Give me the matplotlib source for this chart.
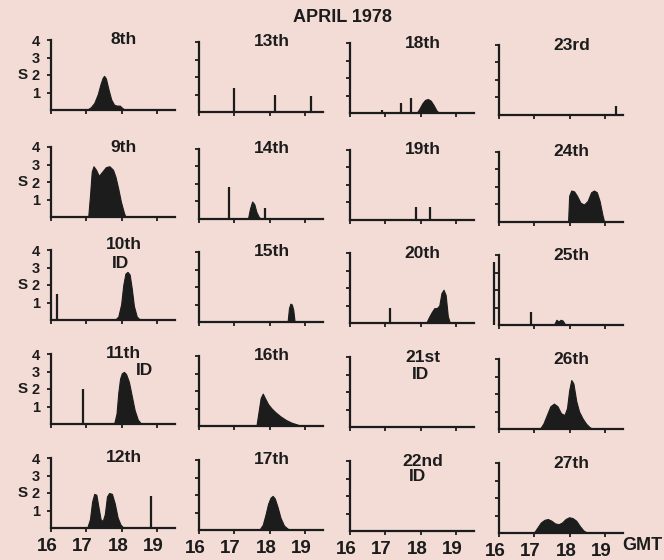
import matplotlib
matplotlib.use('Agg')
import matplotlib.pyplot as plt
from matplotlib.transforms import ScaledTranslation

plt.rcParams['font.family'] = ['Liberation Sans', 'DejaVu Sans']
plt.rcParams['font.weight'] = 'bold'

# Datos: hora GMT y valor S de cada día (abril 1978)
t08 = [17.0, 17.12, 17.22, 17.32, 17.4, 17.46, 17.5, 17.55, 17.62, 17.7, 17.78, 17.86, 17.94, 18.02, 18.1]
s08 = [0, 0.15, 0.4, 0.9, 1.5, 1.85, 1.95, 1.8, 1.2, 0.6, 0.3, 0.25, 0.25, 0.1, 0]

t09 = [17.05, 17.1, 17.15, 17.2, 17.27, 17.35, 17.45, 17.55, 17.65, 17.75, 17.82, 17.9, 17.97, 18.05, 18.1]
s09 = [0, 1.2, 2.6, 2.9, 2.7, 2.35, 2.6, 2.85, 2.9, 2.7, 2.3, 1.6, 0.9, 0.3, 0]

t10 = [17.8, 17.9, 17.98, 18.04, 18.1, 18.16, 18.22, 18.28, 18.34, 18.42, 18.52]
s10 = [0, 0.2, 0.9, 2.0, 2.65, 2.75, 2.6, 1.8, 0.8, 0.2, 0]
spk_t10 = [16.17]
spk_s10 = [1.5]

t11 = [17.78, 17.85, 17.9, 17.95, 18.0, 18.06, 18.12, 18.2, 18.28, 18.36, 18.45, 18.55]
s11 = [0, 0.6, 1.8, 2.6, 2.9, 2.98, 2.85, 2.4, 1.6, 0.8, 0.25, 0]
spk_t11 = [16.9]
spk_s11 = [2.0]

t12 = [17.02, 17.1, 17.16, 17.22, 17.28, 17.34, 17.4, 17.46, 17.52, 17.58, 17.64, 17.72, 17.8, 17.88, 17.96, 18.05]
s12 = [0, 0.5, 1.5, 1.95, 1.9, 1.2, 0.5, 0.4, 0.8, 1.8, 2.0, 1.95, 1.4, 0.6, 0.2, 0]
spk_t12 = [18.83]
spk_s12 = [1.85]

spk_t13 = [17.0, 18.15, 19.15]
spk_s13 = [1.4, 1.0, 0.9]

t14 = [17.38, 17.44, 17.5, 17.56, 17.62, 17.68, 17.74]
s14 = [0, 0.6, 1.0, 0.85, 0.4, 0.15, 0]
spk_t14 = [16.84, 17.85]
spk_s14 = [1.8, 0.6]

t15 = [18.5, 18.54, 18.58, 18.62, 18.66, 18.7]
s15 = [0, 0.8, 1.05, 1.0, 0.7, 0]

t16 = [17.62, 17.68, 17.74, 17.8, 17.86, 17.95, 18.05, 18.15, 18.3, 18.45, 18.6, 18.75, 18.9]
s16 = [0, 0.8, 1.6, 1.85, 1.6, 1.25, 1.0, 0.8, 0.55, 0.35, 0.2, 0.1, 0]

t17 = [17.7, 17.8, 17.88, 17.95, 18.02, 18.08, 18.14, 18.22, 18.3, 18.4, 18.5, 18.6]
s17 = [0, 0.3, 0.9, 1.5, 1.85, 1.95, 1.8, 1.3, 0.7, 0.25, 0.08, 0]

t18 = [17.88, 17.96, 18.04, 18.12, 18.2, 18.28, 18.36, 18.44, 18.52]
s18 = [0, 0.25, 0.55, 0.75, 0.8, 0.7, 0.45, 0.15, 0]
spk_t18 = [16.9, 17.45, 17.72]
spk_s18 = [0.2, 0.55, 0.85]

spk_t19 = [17.86, 18.25]
spk_s19 = [0.75, 0.75]

t20 = [18.15, 18.22, 18.3, 18.38, 18.45, 18.52, 18.58, 18.64, 18.7, 18.76, 18.82]
s20 = [0, 0.3, 0.6, 0.85, 0.85, 1.0, 1.7, 1.9, 1.6, 0.4, 0]
spk_t20 = [17.13]
spk_s20 = [0.85]

spk_t23 = [19.3]
spk_s23 = [0.5]

t24 = [17.95, 17.98, 18.04, 18.12, 18.2, 18.3, 18.4, 18.5, 18.6, 18.68, 18.76, 18.84, 18.92, 18.97]
s24 = [0, 1.5, 1.8, 1.75, 1.5, 1.1, 1.0, 1.2, 1.7, 1.8, 1.7, 1.2, 0.4, 0]

t25 = [17.55, 17.62, 17.68, 17.74, 17.8, 17.86, 17.92]
s25 = [0, 0.3, 0.2, 0.3, 0.25, 0.05, 0]
spk_t25 = [15.85, 16.9]
spk_s25 = [3.6, 0.75]

t26 = [17.15, 17.25, 17.35, 17.45, 17.55, 17.65, 17.75, 17.85, 17.92, 17.98, 18.04, 18.1, 18.18, 18.26, 18.36, 18.46, 18.56, 18.66]
s26 = [0, 0.3, 0.8, 1.3, 1.45, 1.3, 0.9, 0.8, 1.2, 2.2, 2.8, 2.6, 1.6, 1.0, 0.6, 0.3, 0.1, 0]

t27 = [16.98, 17.08, 17.18, 17.28, 17.38, 17.48, 17.58, 17.68, 17.78, 17.88, 17.98, 18.08, 18.18, 18.28, 18.38, 18.5]
s27 = [0, 0.3, 0.6, 0.75, 0.8, 0.7, 0.55, 0.5, 0.6, 0.8, 0.9, 0.85, 0.7, 0.4, 0.15, 0]

hour_ticks = [16, 17, 18, 19]
s_ticks = [1, 2, 3, 4]

# (título, curva t, curva s, picos t, picos s, etiqueta ID)
columns = [
    [('8th', t08, s08, [], [], None),
     ('9th', t09, s09, [], [], None),
     ('10th', t10, s10, spk_t10, spk_s10, (17.97, 3.25)),
     ('11th', t11, s11, spk_t11, spk_s11, (18.63, 3.05)),
     ('12th', t12, s12, spk_t12, spk_s12, None)],
    [('13th', [], [], spk_t13, spk_s13, None),
     ('14th', t14, s14, spk_t14, spk_s14, None),
     ('15th', t15, s15, [], [], None),
     ('16th', t16, s16, [], [], None),
     ('17th', t17, s17, [], [], None)],
    [('18th', t18, s18, spk_t18, spk_s18, None),
     ('19th', [], [], spk_t19, spk_s19, None),
     ('20th', t20, s20, spk_t20, spk_s20, None),
     ('21st', [], [], [], [], (18.0, 3.0)),
     ('22nd', [], [], [], [], (17.9, 3.1))],
    [('23rd', [], [], spk_t23, spk_s23, None),
     ('24th', t24, s24, [], [], None),
     ('25th', t25, s25, spk_t25, spk_s25, None),
     ('26th', t26, s26, [], [], None),
     ('27th', t27, s27, [], [], None)],
]

W, H = 664, 560
col_left = [51, 199, 350, 499]
col_shift = [0, 2, 3, 5]
row_base = [110, 217, 320, 424, 528]
ax_w, ax_h = 124, 70

ink = '#1c1c1c'
fig = plt.figure(figsize=(W / 100, H / 100), dpi=100, facecolor='#f2dcd5')
shift_left = ScaledTranslation(-4 / 100, 0, fig.dpi_scale_trans)

for c, panels in enumerate(columns):
    for r, (name, t, s, spk_t, spk_s, id_pos) in enumerate(panels):
        base = row_base[r] + col_shift[c]
        ax = fig.add_axes([col_left[c] / W, 1 - base / H, ax_w / W, ax_h / H])
        ax.set_facecolor('none')
        ax.set_xlim(16, 19.5)
        ax.set_ylim(0, 4)
        for sp in ['top', 'right']:
            ax.spines[sp].set_visible(False)
        for sp in ['left', 'bottom']:
            ax.spines[sp].set_color(ink)
            ax.spines[sp].set_linewidth(1.6)
        ax.set_xticks(hour_ticks)
        ax.set_yticks(s_ticks)
        ax.tick_params(direction='out', length=3, width=1.3, colors=ink,
                       labelsize=13.5, pad=4)
        ax.tick_params(axis='y', labelsize=10.5, pad=5)
        if r == 4:
            ax.set_xticklabels([str(h) for h in hour_ticks], fontweight='bold')
            for lab in ax.get_xticklabels():
                lab.set_transform(lab.get_transform() + shift_left)
        else:
            ax.set_xticklabels([])
        if c == 0:
            ax.set_yticklabels([str(v) for v in s_ticks], fontweight='bold')
            ax.text(-0.23, 2, 'S', transform=ax.get_yaxis_transform(),
                    ha='center', va='center', fontsize=11, fontweight='bold', color=ink)
        else:
            ax.set_yticklabels([])

        if t:
            ax.fill_between(t, s, 0, color=ink, lw=0.8, edgecolor=ink)
        if spk_t:
            ax.vlines(spk_t, 0, spk_s, color=ink, lw=1.6, clip_on=False)

        ty = 4.3 if name == '10th' else 4.0
        ax.text(18.05, ty, name, ha='center', va='center', fontsize=12.5,
                fontweight='bold', color=ink, clip_on=False)
        if id_pos:
            ax.text(id_pos[0], id_pos[1], 'ID', ha='center', va='center',
                    fontsize=12.5, fontweight='bold', color=ink)
        if r == 4 and c == 3:
            ax.text(19.49, -0.25, 'GMT', ha='left', va='top', fontsize=13,
                    fontweight='bold', color=ink, clip_on=False)

fig.text(342 / W, 1 - 18 / H, 'APRIL 1978', ha='center', va='center',
         fontsize=13, fontweight='bold', color=ink)

fig.savefig('out.png', dpi=100, facecolor=fig.get_facecolor())
